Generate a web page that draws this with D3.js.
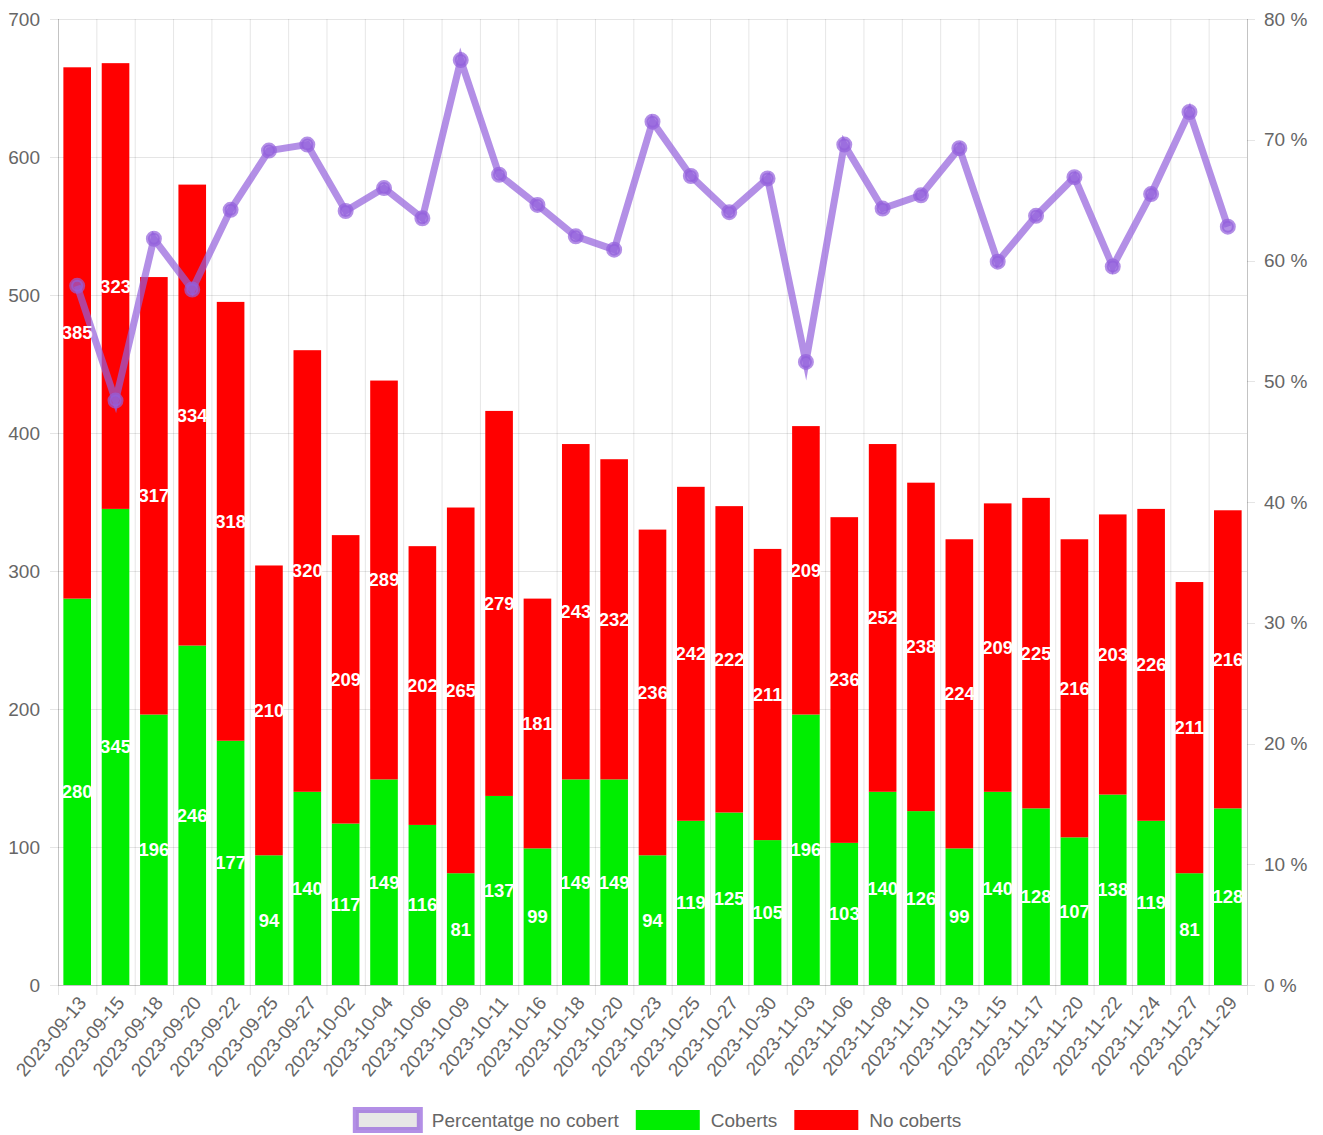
<!DOCTYPE html>
<html>
<head>
<meta charset="utf-8">
<script src="https://cdn.jsdelivr.net/npm/d3@7"></script>
<style>
  html, body { margin: 0; padding: 0; background: #fff; }
  svg { display: block; font-family: "Liberation Sans", Arial, sans-serif; }
</style>
</head>
<body>
<div id="chart"></div>
<script>
(function() {
  'use strict';

  const dates = [
    '2023-09-13', '2023-09-15', '2023-09-18', '2023-09-20', '2023-09-22', '2023-09-25',
    '2023-09-27', '2023-10-02', '2023-10-04', '2023-10-06', '2023-10-09', '2023-10-11',
    '2023-10-16', '2023-10-18', '2023-10-20', '2023-10-23', '2023-10-25', '2023-10-27',
    '2023-10-30', '2023-11-03', '2023-11-06', '2023-11-08', '2023-11-10', '2023-11-13',
    '2023-11-15', '2023-11-17', '2023-11-20', '2023-11-22', '2023-11-24', '2023-11-27',
    '2023-11-29'
  ];
  const coberts = [280, 345, 196, 246, 177, 94, 140, 117, 149, 116, 81, 137, 99, 149, 149, 94,
    119, 125, 105, 196, 103, 140, 126, 99, 140, 128, 107, 138, 119, 81, 128];
  const noCoberts = [385, 323, 317, 334, 318, 210, 320, 209, 289, 202, 265, 279, 181, 243, 232, 236,
    242, 222, 211, 209, 236, 252, 238, 224, 209, 225, 216, 203, 226, 211, 216];
  const pctNoCobert = [57.9, 48.4, 61.8, 57.6, 64.2, 69.1, 69.6, 64.1, 66.0, 63.5, 76.6, 67.1,
    64.6, 62.0, 60.9, 71.5, 67.0, 64.0, 66.8, 51.6, 69.6, 64.3, 65.4, 69.3, 59.9, 63.7,
    66.9, 59.5, 65.5, 72.3, 62.8];
  const leftTicks = [0, 100, 200, 300, 400, 500, 600, 700];
  const rightTicks = [0, 10, 20, 30, 40, 50, 60, 70, 80];

  const W = 1323, H = 1135;
  const plot = { left: 58, right: 1247, top: 19, bottom: 985 };
  const fontSize = 19;
  const gridColor = 'rgba(0,0,0,0.1)';
  const tickColor = '#666';
  const lineColor = 'rgba(147, 96, 220, 0.7)';
  const green = '#00ee00';
  const red = '#ff0000';

  const svg = d3.select('#chart').append('svg')
    .attr('width', W)
    .attr('height', H);

  const x = d3.scaleBand()
    .domain(dates)
    .range([plot.left, plot.right])
    .paddingInner(0)
    .paddingOuter(0);

  const yLeft = d3.scaleLinear().domain([0, 700]).range([plot.bottom, plot.top]);
  const yRight = d3.scaleLinear().domain([0, 80]).range([plot.bottom, plot.top]);

  // grid: vertical lines at category boundaries
  const bounds = dates.map(d => x(d)).concat([plot.right]);
  svg.append('g').selectAll('line')
    .data(bounds)
    .join('line')
    .attr('x1', d => d + 0.5).attr('x2', d => d + 0.5)
    .attr('y1', plot.top).attr('y2', plot.bottom + 10)
    .attr('stroke', gridColor);

  // horizontal grid from left axis
  svg.append('g').selectAll('line')
    .data(leftTicks)
    .join('line')
    .attr('x1', plot.left - 8).attr('x2', plot.right)
    .attr('y1', d => Math.round(yLeft(d)) + 0.5).attr('y2', d => Math.round(yLeft(d)) + 0.5)
    .attr('stroke', gridColor);

  // right axis tick marks
  svg.append('g').selectAll('line')
    .data(rightTicks)
    .join('line')
    .attr('x1', plot.right).attr('x2', plot.right + 8)
    .attr('y1', d => Math.round(yRight(d)) + 0.5).attr('y2', d => Math.round(yRight(d)) + 0.5)
    .attr('stroke', gridColor);

  // axis lines
  [plot.left, plot.right].forEach(px => {
    svg.append('line')
      .attr('x1', px + 0.5).attr('x2', px + 0.5)
      .attr('y1', plot.top).attr('y2', plot.bottom)
      .attr('stroke', 'rgba(0,0,0,0.15)');
  });
  svg.append('line')
    .attr('x1', plot.left).attr('x2', plot.right)
    .attr('y1', plot.bottom + 0.5).attr('y2', plot.bottom + 0.5)
    .attr('stroke', 'rgba(0,0,0,0.15)');

  // tick labels
  svg.append('g').selectAll('text')
    .data(leftTicks)
    .join('text')
    .attr('x', plot.left - 18)
    .attr('y', d => yLeft(d))
    .attr('dy', '0.35em')
    .attr('text-anchor', 'end')
    .attr('font-size', fontSize)
    .attr('fill', tickColor)
    .text(d => d);

  svg.append('g').selectAll('text')
    .data(rightTicks)
    .join('text')
    .attr('x', plot.right + 17)
    .attr('y', d => yRight(d))
    .attr('dy', '0.35em')
    .attr('text-anchor', 'start')
    .attr('font-size', fontSize)
    .attr('fill', tickColor)
    .text(d => d + ' %');

  svg.append('g').selectAll('text')
    .data(dates)
    .join('text')
    .attr('transform', d => `translate(${x(d) + x.bandwidth() / 2 + 5}, ${plot.bottom + 14}) rotate(-50)`)
    .attr('dy', '0.35em')
    .attr('text-anchor', 'end')
    .attr('font-size', fontSize)
    .attr('fill', tickColor)
    .text(d => d);

  // stacked bars
  const barW = x.bandwidth() * 0.72;
  const barOff = (x.bandwidth() - barW) / 2;
  const rows = dates.map((d, i) => ({ date: d, coberts: coberts[i], noCoberts: noCoberts[i] }));
  const stack = d3.stack().keys(['coberts', 'noCoberts'])(rows);
  const colors = { coberts: green, noCoberts: red };

  const layers = svg.append('g').selectAll('g')
    .data(stack)
    .join('g')
    .attr('fill', s => colors[s.key]);

  layers.selectAll('rect')
    .data(s => s)
    .join('rect')
    .attr('x', d => x(d.data.date) + barOff)
    .attr('width', barW)
    .attr('y', d => yLeft(d[1]))
    .attr('height', d => yLeft(d[0]) - yLeft(d[1]));

  // line
  const line = d3.line()
    .x((d, i) => x(dates[i]) + x.bandwidth() / 2)
    .y(d => yRight(d));

  svg.append('path')
    .datum(pctNoCobert)
    .attr('d', line)
    .attr('fill', 'none')
    .attr('stroke', lineColor)
    .attr('stroke-width', 7)
    .attr('stroke-linejoin', 'miter')
    .attr('stroke-miterlimit', 10);

  svg.append('g').selectAll('circle')
    .data(pctNoCobert)
    .join('circle')
    .attr('cx', (d, i) => x(dates[i]) + x.bandwidth() / 2)
    .attr('cy', d => yRight(d))
    .attr('r', 6)
    .attr('fill', lineColor)
    .attr('stroke', lineColor)
    .attr('stroke-width', 4);

  // data labels
  const labels = svg.append('g')
    .attr('font-size', 18.5)
    .attr('font-weight', 'bold')
    .attr('fill', '#fff')
    .attr('text-anchor', 'middle');

  stack.forEach(s => {
    labels.selectAll(null)
      .data(s)
      .join('text')
      .attr('x', d => x(d.data.date) + x.bandwidth() / 2)
      .attr('y', d => (yLeft(d[0]) + yLeft(d[1])) / 2)
      .attr('dy', '0.35em')
      .text(d => d.data[s.key]);
  });

  // legend
  const legendItems = [
    { label: 'Percentatge no cobert', type: 'line' },
    { label: 'Coberts', color: green },
    { label: 'No coberts', color: red }
  ];
  const legend = svg.append('g');
  const boxW = 64, boxH = 20, gap = 11, itemGap = 17;
  let lx = 0;
  legend.selectAll('g')
    .data(legendItems)
    .join('g')
    .each(function(d) {
      const g = d3.select(this);
      const isLine = d.type === 'line';
      if (isLine) {
        g.append('rect')
          .attr('x', 3).attr('y', -boxH / 2)
          .attr('width', boxW).attr('height', boxH)
          .attr('fill', '#e6e6e6')
          .attr('stroke', lineColor)
          .attr('stroke-width', 6);
      } else {
        g.append('rect')
          .attr('x', 0).attr('y', -boxH / 2)
          .attr('width', boxW).attr('height', boxH)
          .attr('fill', d.color);
      }
      const tx = boxW + gap + (isLine ? 4 : 0);
      const t = g.append('text')
        .attr('x', tx)
        .attr('dy', '0.35em')
        .attr('font-size', fontSize)
        .attr('fill', tickColor)
        .text(d.label);
      g.attr('transform', `translate(${lx}, 0)`);
      lx += tx + t.node().getComputedTextLength() + itemGap;
    });
  lx -= itemGap;
  legend.attr('transform', `translate(${657 - lx / 2}, 1120)`);
})();
</script>
</body>
</html>
